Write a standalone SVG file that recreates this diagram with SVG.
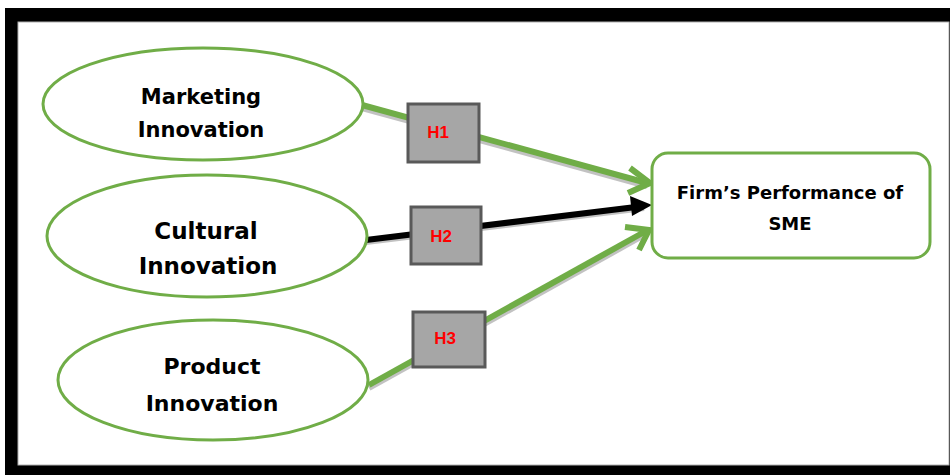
<svg xmlns="http://www.w3.org/2000/svg" width="950" height="475" viewBox="0 0 950 475">
<style>
.ell{fill:#fff;stroke:#70ad47;stroke-width:3}
.lbl{font-family:"DejaVu Sans",sans-serif;font-weight:bold;fill:#000;text-anchor:middle}
.hbox{fill:#a6a6a6;stroke:#595959;stroke-width:3}
.htxt{font-family:"Liberation Sans",Arial,sans-serif;font-weight:bold;font-size:17px;fill:#ff0000;text-anchor:middle}
.sh{stroke:#9a9a9a;stroke-width:6;fill:none;opacity:0.6}
.gl{stroke:#70ad47;stroke-width:6;fill:none}
.bl{stroke:#000;stroke-width:6;fill:none}
.gh{stroke:#70ad47;stroke-width:6;fill:none;stroke-linejoin:miter;stroke-linecap:butt}
</style>
<rect x="5" y="8" width="945" height="467" fill="#000"/>
<rect x="18" y="22" width="931" height="443" fill="#fff" stroke="#b0b0b0" stroke-width="1"/>

<g id="connectors">
  <line class="sh" x1="362" y1="108" x2="647" y2="186"/>
  <line class="gl" x1="362" y1="105" x2="647" y2="183"/>
  <polyline class="gh" points="630,168 650,183 628,193"/>
  <line class="sh" x1="366" y1="242" x2="644" y2="208"/>
  <line class="bl" x1="366" y1="240" x2="644" y2="206"/>
  <polygon points="652,205 630,196 632,216" fill="#000"/>
  <line class="sh" x1="369" y1="388" x2="646" y2="234"/>
  <line class="gl" x1="369" y1="385" x2="646" y2="231"/>
  <polyline class="gh" points="625,227 649,230 639,250"/>
</g>

<g id="marketing">
  <ellipse class="ell" cx="203" cy="104" rx="160" ry="56"/>
  <text class="lbl" x="201" y="104" font-size="21">Marketing</text>
  <text class="lbl" x="201" y="137" font-size="21">Innovation</text>
</g>
<g id="cultural">
  <ellipse class="ell" cx="207" cy="236" rx="160" ry="61"/>
  <text class="lbl" x="206" y="239" font-size="23">Cultural</text>
  <text class="lbl" x="208" y="274" font-size="23">Innovation</text>
</g>
<g id="product">
  <ellipse class="ell" cx="213" cy="380" rx="155" ry="60"/>
  <text class="lbl" x="212" y="374" font-size="22">Product</text>
  <text class="lbl" x="212" y="411" font-size="22">Innovation</text>
</g>

<g id="h1">
  <rect class="hbox" x="408" y="104" width="71" height="58"/>
  <text class="htxt" x="438" y="138">H1</text>
</g>
<g id="h2">
  <rect class="hbox" x="411" y="207" width="70" height="57"/>
  <text class="htxt" x="441" y="242">H2</text>
</g>
<g id="h3">
  <rect class="hbox" x="413" y="312" width="72" height="55"/>
  <text class="htxt" x="445" y="344">H3</text>
</g>

<g id="performance">
  <rect x="652" y="153" width="278" height="105" rx="16" ry="16" fill="#fff" stroke="#70ad47" stroke-width="3"/>
  <text class="lbl" x="790" y="199" font-size="18">Firm’s Performance of</text>
  <text class="lbl" x="790" y="230" font-size="18">SME</text>
</g>
</svg>
